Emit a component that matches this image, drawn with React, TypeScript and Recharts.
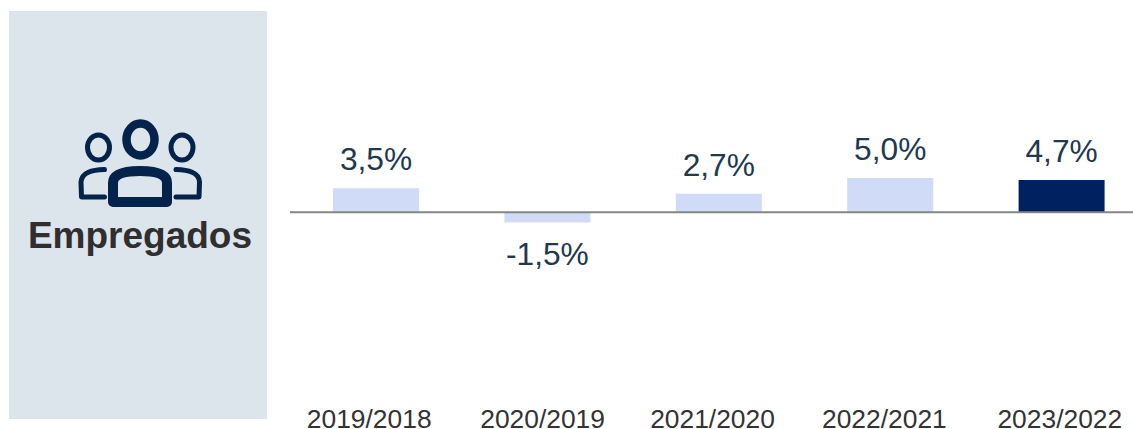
import React from "react";
import { BarChart, Bar, XAxis, YAxis, Cell, LabelList, ReferenceLine } from "recharts";

const categories = ["2019/2018", "2020/2019", "2021/2020", "2022/2021", "2023/2022"];
const values = [3.5, -1.5, 2.7, 5.0, 4.7];
const barColors = ["#CFDBF7", "#CFDBF7", "#CFDBF7", "#CFDBF7", "#00215F"];
const panelTitle = "Empregados";
const tickShift = [-6.5, -4.5, -6, -5.5, -1.5];

const data = categories.map((period, i) => ({ period, value: values[i] }));
const formatPct = (v: number) => `${v.toFixed(1).replace(".", ",")}%`;
const NAVY = "#03234B";
const FONT = "'Liberation Sans', Arial, sans-serif";

const PeriodTick = (props: any) => {
  const { x, payload, index } = props;
  return (
    <text x={x + tickShift[index]} y={428} textAnchor="middle" fontSize={26.4} fontFamily={FONT} fill="#333333">
      {payload.value}
    </text>
  );
};

const ValueLabel = (props: any) => {
  const { x, y, width, height, value } = props;
  const isNeg = Number(value) < 0;
  const edge = Math.min(y, y + height);
  const low = Math.max(y, y + height);
  return (
    <text
      x={x + width / 2}
      y={isNeg ? low + 43 : edge - 18}
      textAnchor="middle"
      fontSize={31.7}
      fontFamily={FONT}
      fill="#22384F"
    >
      {formatPct(Number(value))}
    </text>
  );
};

export default function App() {
  return (
    <div style={{ position: "absolute", left: 0, top: 0, width: 1133, height: 429, overflow: "hidden", background: "#fff", fontFamily: FONT }}>
      <div style={{ position: "absolute", left: 9, top: 11, width: 258, height: 408, background: "#DCE4EC" }} />
      <svg width={267} height={429} style={{ position: "absolute", left: 0, top: 0 }}>
        <ellipse cx={140.5} cy={139.5} rx={14} ry={16} fill="none" stroke={NAVY} strokeWidth={8.5} />
        <ellipse cx={98.5} cy={147.5} rx={11} ry={12.5} fill="none" stroke={NAVY} strokeWidth={5} />
        <ellipse cx={182} cy={147.5} rx={11} ry={12.5} fill="none" stroke={NAVY} strokeWidth={5} />
        <path d="M113 202 L113 183 C113 176 120 171 140 171 C160 171 167 176 167 183 L167 202 Z" fill="none" stroke={NAVY} strokeWidth={10} strokeLinejoin="round" />
        <path d="M104.5 169.5 C92 170 82 172 81 182 L81.5 197 L104.5 197" fill="none" stroke={NAVY} strokeWidth={5} strokeLinecap="round" strokeLinejoin="round" />
        <path d="M176 169.5 C188 170 199 172 199.5 182 L199 197 L176 197" fill="none" stroke={NAVY} strokeWidth={5} strokeLinecap="round" strokeLinejoin="round" />
        <text x={140} y={247.5} textAnchor="middle" fontFamily={FONT} fontWeight={700} fontSize={37} fill="#2F2F2F">{panelTitle}</text>
      </svg>
      <div style={{ position: "absolute", left: 0, top: 0 }}>
        <BarChart width={1147} height={429} data={data} margin={{ top: 0, right: 0, bottom: 0, left: 290 }} barCategoryGap="50%">
          <YAxis hide domain={[-27, 31]} type="number" />
          <XAxis dataKey="period" axisLine={false} tickLine={false} interval={0} height={32} tick={PeriodTick} />
          <Bar dataKey="value" barSize={86} isAnimationActive={false}>
            {values.map((_, i) => (
              <Cell key={categories[i]} fill={barColors[i]} />
            ))}
            <LabelList dataKey="value" content={ValueLabel} />
          </Bar>
          <ReferenceLine y={0} stroke="#868686" strokeWidth={2} />
        </BarChart>
      </div>
    </div>
  );
}
